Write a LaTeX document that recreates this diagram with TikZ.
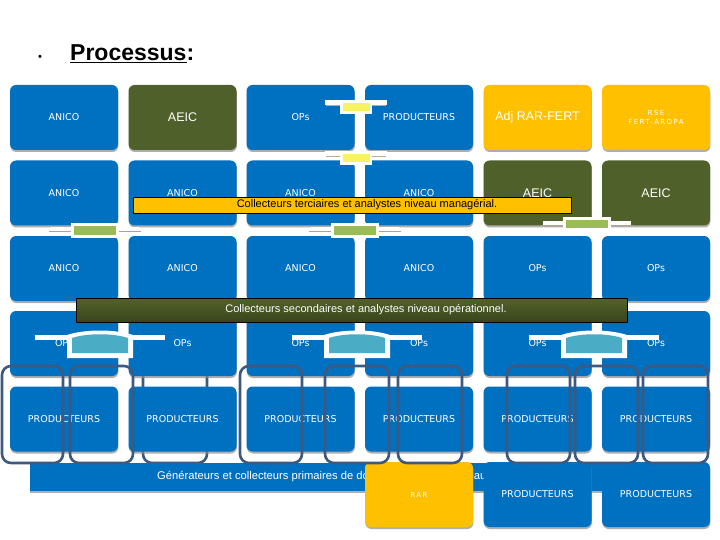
\documentclass[tikz,border=0pt]{standalone}
\usepackage{fontspec}
\setmainfont{Liberation Sans}
\newfontfamily\dejavu{DejaVu Sans}
\newfontfamily\dejavuls[LetterSpace=20]{DejaVu Sans}
\usetikzlibrary{shadows}
\definecolor{cblue}{RGB}{0,112,192}
\definecolor{colive}{RGB}{80,96,42}
\definecolor{cyellow}{RGB}{255,192,0}
\definecolor{cgreen}{RGB}{155,187,89}
\definecolor{clblue}{RGB}{75,172,198}
\definecolor{clyellow}{RGB}{248,244,96}
\definecolor{coutline}{RGB}{61,89,128}
\definecolor{oliveA}{RGB}{84,98,42}
\definecolor{oliveB}{RGB}{56,68,28}
\definecolor{tanline}{RGB}{190,170,140}
\newcommand\yellowhat[2]{%
  \draw[tanline,line width=1pt] ({#1-30},{#2+6}) -- ({#1+30},{#2+6});
  \fill[white] ({#1-31},{#2}) rectangle ({#1+31},{#2+5});
  \fill[white] ({#1-16},{#2}) rectangle ({#1+16},{#2+14});
  \fill[clyellow] ({#1-13.5},{#2+3}) rectangle ({#1+13.5},{#2+11.5});
}
\newcommand\greenhat[2]{%
  \draw[tanline!80!gray,line width=1pt] ({#1-46},{#2+8.5}) -- ({#1+46},{#2+8.5});
  \fill[white] ({#1-44},{#2+4}) rectangle ({#1+44},{#2+8});
  \fill[white] ({#1-24},{#2}) rectangle ({#1+24},{#2+15});
  \fill[cgreen] ({#1-21},{#2+3.5}) rectangle ({#1+21},{#2+11.5});
}
\newcommand\bluehat[2]{%
  \fill[white] ({#1-65},{#2+5}) rectangle ({#1+65},{#2+10});
  \fill[white] ({#1-33},{#2+28}) -- ({#1-33},{#2+5}) .. controls ({#1-15},{#2-1}) and ({#1+15},{#2-1}) .. ({#1+33},{#2+5}) -- ({#1+33},{#2+28}) -- cycle;
  \fill[clblue] ({#1-28},{#2+23}) -- ({#1-28},{#2+8}) .. controls ({#1-13},{#2+3}) and ({#1+13},{#2+3}) .. ({#1+28},{#2+8}) -- ({#1+28},{#2+23}) -- cycle;
}
\begin{document}
\begin{tikzpicture}[x=1pt,y=-1pt,
  gbox/.style={rounded corners=6pt, minimum width=108pt, minimum height=65pt,
    inner sep=0pt, text=white, align=center,
    font=\dejavu\fontsize{9.5}{11}\selectfont, fill=cblue,
    drop shadow={shadow xshift=0.4pt, shadow yshift=-2pt, fill=black!45, opacity=0.7}},
  obox/.style={gbox, fill=colive, font=\fontsize{12.5}{14}\selectfont},
  ybox/.style={gbox, fill=cyellow},
  outl/.style={draw=coutline, line width=2.6pt, rounded corners=9pt},
  banner/.style={draw=black, line width=0.8pt, inner sep=0pt, font=\fontsize{11}{13}\selectfont},
]
\useasboundingbox[fill=white] (0,0) rectangle (720,540);

% title
\node[anchor=base, font=\fontsize{11}{12}\selectfont] (bul) at (40,61) {•};
\node[anchor=base west, inner sep=0pt, font=\bfseries\fontsize{23}{26}\selectfont] (title) at (70,61) {\underline{Processus}:};

% outline hidden behind boxes
\draw[outl] (143,366) rectangle (207,463);

% row 1
\node[gbox] (r1c1) at (64,117.5) {ANICO};
\node[obox] (r1c2) at (182.5,117.5) {AEIC};
\node[gbox] (r1c3) at (300.5,117.5) {OPs};
\node[gbox] (r1c4) at (419,117.5) {PRODUCTEURS};
\node[ybox, font=\fontsize{12.5}{14}\selectfont] (r1c5) at (537.5,117.5) {Adj RAR-FERT};
\node[ybox, font=\dejavuls\fontsize{7}{9.5}\selectfont] (r1c6) at (656,117.5) {RSE\\FERT-AROPA};
% row 2
\node[gbox] (r2c1) at (64,193) {ANICO};
\node[gbox] (r2c2) at (182.5,193) {ANICO};
\node[gbox] (r2c3) at (300.5,193) {ANICO};
\node[gbox] (r2c4) at (419,193) {ANICO};
\node[obox] (r2c5) at (537.5,193) {AEIC};
\node[obox] (r2c6) at (656,193) {AEIC};
% row 3
\node[gbox] (r3c1) at (64,268.5) {ANICO};
\node[gbox] (r3c2) at (182.5,268.5) {ANICO};
\node[gbox] (r3c3) at (300.5,268.5) {ANICO};
\node[gbox] (r3c4) at (419,268.5) {ANICO};
\node[gbox] (r3c5) at (537.5,268.5) {OPs};
\node[gbox] (r3c6) at (656,268.5) {OPs};
% row 4
\node[gbox] (r4c1) at (64,343.5) {OPs};
\node[gbox] (r4c2) at (182.5,343.5) {OPs};
\node[gbox] (r4c3) at (300.5,343.5) {OPs};
\node[gbox] (r4c4) at (419,343.5) {OPs};
\node[gbox] (r4c5) at (537.5,343.5) {OPs};
\node[gbox] (r4c6) at (656,343.5) {OPs};
% row 5
\node[gbox] (r5c1) at (64,419) {PRODUCTEURS};
\node[gbox] (r5c2) at (182.5,419) {PRODUCTEURS};
\node[gbox] (r5c3) at (300.5,419) {PRODUCTEURS};
\node[gbox] (r5c4) at (419,419) {PRODUCTEURS};
\node[gbox] (r5c5) at (537.5,419) {PRODUCTEURS};
\node[gbox] (r5c6) at (656,419) {PRODUCTEURS};

% bottom band
\node[fill=cblue, inner sep=0pt, minimum width=670pt, minimum height=28pt,
  drop shadow={shadow xshift=0.4pt, shadow yshift=-1.5pt, fill=black!45, opacity=0.7}] (band) at (365,477) {};
\node[anchor=west, inner sep=0pt, text=white, font=\fontsize{11.2}{13}\selectfont] (bandtxt) at (157,477)
  {Générateurs et collecteurs primaires de données et\kern-12pt{} analystes niveau terrain.};

% row 6
\node[ybox, font=\dejavuls\fontsize{7}{8}\selectfont] (r6c4) at (419,494.5) {RAR};
\node[gbox] (r6c5) at (537.5,494.5) {PRODUCTEURS};
\node[gbox] (r6c6) at (656,494.5) {PRODUCTEURS};

% outlines
\draw[outl] (2,366) rectangle (63,463);
\draw[outl] (70,366) rectangle (133,463);
\draw[outl] (240,366) rectangle (302,463);
\draw[outl] (325,366) rectangle (389,463);
\draw[outl] (398,366) rectangle (462,463);
\draw[outl] (507,366) rectangle (570,463);
\draw[outl] (575,366) rectangle (638,463);
\draw[outl] (643,366) rectangle (708,463);

% hats
\yellowhat{356}{100}
\yellowhat{356}{151}
\greenhat{95}{223}
\greenhat{355}{223}
\greenhat{587}{217}
\bluehat{100}{330}
\bluehat{357}{330}
\bluehat{594}{330}

% banners
\node[banner, fill=cyellow, minimum width=438pt, minimum height=16pt] (ban1) at (352,205)
  {\hspace*{30pt}Collecteurs terciaires et analystes niveau managérial.};
\node[banner, top color=oliveA, bottom color=oliveB, text=white, minimum width=551pt, minimum height=24pt] (ban2) at (351.5,310)
  {\hspace*{29pt}Collecteurs secondaires et analystes niveau opérationnel.};
\end{tikzpicture}
\end{document}
